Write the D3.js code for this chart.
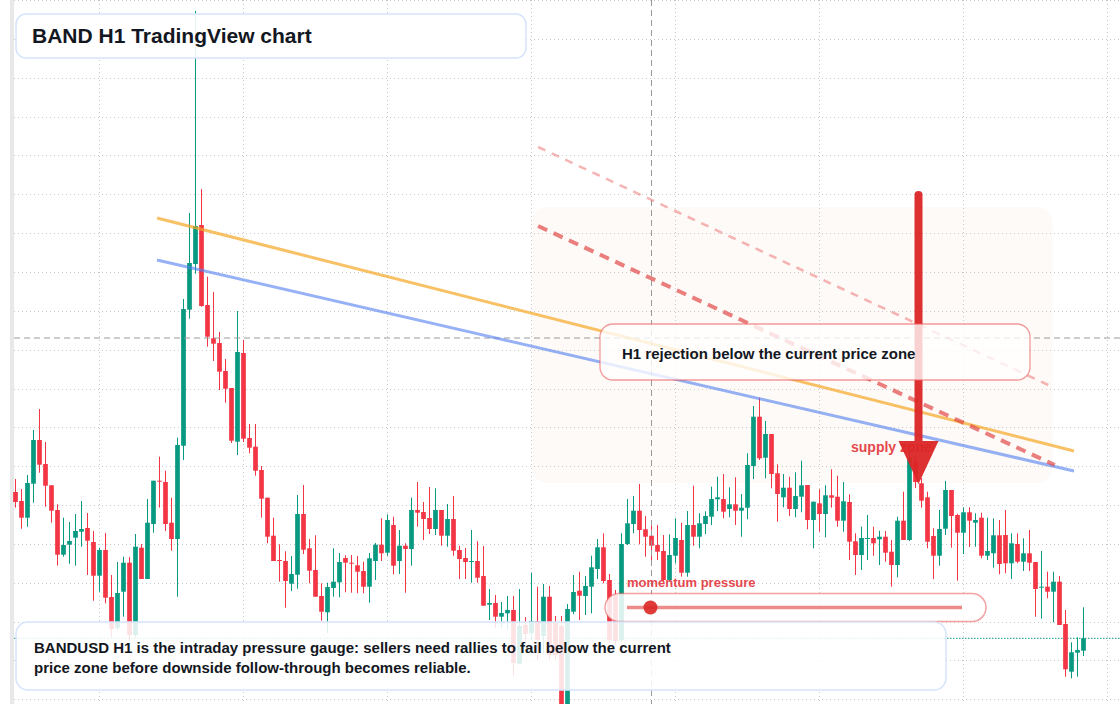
<!DOCTYPE html>
<html>
<head>
<meta charset="utf-8">
<script src="https://cdn.jsdelivr.net/npm/d3@7"></script>
<style>
  body { margin: 0; background: #ffffff; }
  #content svg { display: block; font-family: "Liberation Sans", Arial, sans-serif; }
</style>
</head>
<body>
<div id="content"></div>
<script>
// BANDUSD H1 candles (oldest first)
const opens = [
  0.508, 0.499, 0.4823, 0.5163, 0.560, 0.536, 0.5147, 0.490, 0.4453, 0.4553,
  0.4623, 0.4683, 0.472, 0.458, 0.4243, 0.450, 0.403, 0.372, 0.4083, 0.4373,
  0.365, 0.4523, 0.421, 0.476, 0.5193, 0.518, 0.4773, 0.461, 0.5543, 0.6903,
  0.736, 0.775, 0.695, 0.6617, 0.657, 0.629, 0.612, 0.5583, 0.647, 0.562,
  0.5533, 0.530, 0.5023, 0.4643, 0.440, 0.439, 0.4163, 0.4253, 0.486, 0.4517,
  0.430, 0.404, 0.3877, 0.412, 0.4177, 0.442, 0.4373, 0.4347, 0.429, 0.4133,
  0.439, 0.4553, 0.4473, 0.475, 0.439, 0.4543, 0.451, 0.490, 0.488, 0.482,
  0.471, 0.490, 0.4643, 0.481, 0.450, 0.442, 0.438, 0.439, 0.424, 0.3953,
  0.397, 0.3833, 0.3867, 0.390, 0.3363, 0.375, 0.3667, 0.379, 0.364, 0.4033,
  0.377, 0.374, 0.296, 0.3883, 0.4093, 0.404, 0.4133, 0.431, 0.4527, 0.420,
  0.405, 0.360, 0.456, 0.476, 0.4893, 0.4707, 0.4643, 0.455, 0.449, 0.420,
  0.4443, 0.460, 0.4273, 0.475, 0.4633, 0.476, 0.4833, 0.5007, 0.501, 0.491,
  0.4957, 0.4893, 0.4923, 0.534, 0.5833, 0.5423, 0.566, 0.5267, 0.5027, 0.5123,
  0.491, 0.5033, 0.515, 0.480, 0.4967, 0.486, 0.5047, 0.5033, 0.4793, 0.498,
  0.4587, 0.445, 0.461, 0.462, 0.4607, 0.4633, 0.4483, 0.435, 0.4793, 0.460,
  0.538, 0.5167, 0.5027, 0.464, 0.4443, 0.4713, 0.510, 0.485, 0.4673, 0.4877,
  0.4773, 0.4823, 0.4443, 0.4467, 0.4647, 0.465, 0.4367, 0.456, 0.4383, 0.4467,
  0.438, 0.4123, 0.4133, 0.4083, 0.4183, 0.376, 0.3283, 0.3473, 0.3493,
];
const highs = [
  0.521, 0.511, 0.525, 0.570, 0.591, 0.558, 0.5147, 0.4957, 0.4823, 0.478,
  0.486, 0.499, 0.487, 0.469, 0.4523, 0.467, 0.425, 0.438, 0.4433, 0.443,
  0.466, 0.456, 0.501, 0.5193, 0.5433, 0.5293, 0.5023, 0.5623, 0.701, 0.787,
  0.989, 0.811, 0.7233, 0.708, 0.668, 0.641, 0.612, 0.689, 0.660, 0.576,
  0.576, 0.534, 0.5023, 0.4823, 0.4557, 0.4487, 0.444, 0.505, 0.515, 0.461,
  0.4647, 0.4167, 0.4173, 0.4517, 0.447, 0.4447, 0.445, 0.444, 0.4383, 0.447,
  0.457, 0.4817, 0.4857, 0.4833, 0.470, 0.4567, 0.5023, 0.518, 0.498, 0.513,
  0.5117, 0.490, 0.496, 0.504, 0.4543, 0.452, 0.470, 0.4587, 0.454, 0.411,
  0.405, 0.398, 0.404, 0.404, 0.411, 0.383, 0.427, 0.4133, 0.416, 0.414,
  0.384, 0.384, 0.396, 0.425, 0.4283, 0.424, 0.4443, 0.461, 0.4667, 0.426,
  0.410, 0.4667, 0.501, 0.504, 0.516, 0.484, 0.475, 0.475, 0.465, 0.4657,
  0.4817, 0.4773, 0.489, 0.5143, 0.4867, 0.4887, 0.5133, 0.5233, 0.526, 0.5127,
  0.5227, 0.506, 0.5467, 0.594, 0.6023, 0.579, 0.566, 0.5357, 0.526, 0.5233,
  0.5277, 0.5393, 0.515, 0.4983, 0.5107, 0.5147, 0.5307, 0.5243, 0.518, 0.5057,
  0.4667, 0.4733, 0.485, 0.4733, 0.4693, 0.469, 0.460, 0.4833, 0.5083, 0.548,
  0.545, 0.522, 0.5083, 0.4717, 0.490, 0.519, 0.510, 0.4863, 0.4927, 0.4927,
  0.4867, 0.4873, 0.4823, 0.4817, 0.480, 0.490, 0.4667, 0.4667, 0.4617, 0.470,
  0.438, 0.449, 0.4283, 0.4283, 0.424, 0.390, 0.3577, 0.3627, 0.3927,
];
const lows = [
  0.4923, 0.4713, 0.4733, 0.4973, 0.5273, 0.4933, 0.4773, 0.4343, 0.4433, 0.4363,
  0.4343, 0.4533, 0.425, 0.3993, 0.4083, 0.3967, 0.363, 0.370, 0.3833, 0.359,
  0.363, 0.421, 0.421, 0.4673, 0.4923, 0.469, 0.4493, 0.4033, 0.540, 0.6813,
  0.7263, 0.6933, 0.6533, 0.639, 0.610, 0.5973, 0.557, 0.545, 0.558, 0.5467,
  0.5243, 0.4823, 0.4567, 0.439, 0.4183, 0.3923, 0.409, 0.4113, 0.446, 0.4167,
  0.4033, 0.3793, 0.367, 0.4033, 0.4027, 0.4077, 0.4073, 0.4067, 0.4067, 0.3973,
  0.420, 0.439, 0.4443, 0.4257, 0.426, 0.4073, 0.4343, 0.4733, 0.460, 0.466,
  0.465, 0.4543, 0.4533, 0.4443, 0.421, 0.421, 0.4173, 0.4173, 0.3943, 0.380,
  0.372, 0.372, 0.371, 0.324, 0.336, 0.357, 0.360, 0.340, 0.347, 0.340,
  0.340, 0.290, 0.292, 0.386, 0.380, 0.385, 0.3867, 0.421, 0.4167, 0.357,
  0.355, 0.359, 0.455, 0.4667, 0.4557, 0.4433, 0.437, 0.440, 0.4183, 0.4183,
  0.4367, 0.4233, 0.4233, 0.4543, 0.4517, 0.466, 0.475, 0.489, 0.4817, 0.4827,
  0.475, 0.4633, 0.4807, 0.521, 0.540, 0.5217, 0.5117, 0.4783, 0.4927, 0.484,
  0.4827, 0.4877, 0.4707, 0.4517, 0.4683, 0.4627, 0.4923, 0.4733, 0.4683, 0.440,
  0.425, 0.430, 0.440, 0.4443, 0.435, 0.4383, 0.4133, 0.4227, 0.460, 0.459,
  0.512, 0.4923, 0.4517, 0.421, 0.4343, 0.465, 0.4523, 0.4193, 0.446, 0.453,
  0.4533, 0.4417, 0.440, 0.4323, 0.4257, 0.4267, 0.421, 0.4367, 0.429, 0.429,
  0.3833, 0.3813, 0.4017, 0.3777, 0.375, 0.3233, 0.3217, 0.3233, 0.344,
];
const closes = [
  0.498, 0.4823, 0.517, 0.560, 0.5353, 0.5143, 0.4893, 0.4453, 0.455, 0.459,
  0.469, 0.471, 0.4593, 0.4243, 0.450, 0.4023, 0.371, 0.407, 0.4373, 0.365,
  0.4533, 0.421, 0.4773, 0.5193, 0.5183, 0.476, 0.461, 0.555, 0.691, 0.737,
  0.774, 0.694, 0.6633, 0.6563, 0.6283, 0.6113, 0.5593, 0.648, 0.5613, 0.5523,
  0.5293, 0.5013, 0.4633, 0.439, 0.439, 0.419, 0.426, 0.486, 0.4503, 0.4293,
  0.4033, 0.3883, 0.413, 0.4183, 0.438, 0.4373, 0.4363, 0.4283, 0.4133, 0.4417,
  0.4553, 0.4467, 0.480, 0.4343, 0.4543, 0.451, 0.490, 0.4873, 0.481, 0.471,
  0.490, 0.4643, 0.481, 0.4493, 0.441, 0.438, 0.439, 0.4223, 0.3943, 0.397,
  0.3833, 0.387, 0.390, 0.337, 0.374, 0.366, 0.379, 0.360, 0.4033, 0.345,
  0.345, 0.296, 0.391, 0.408, 0.4043, 0.414, 0.4327, 0.4527, 0.419, 0.360,
  0.359, 0.456, 0.4767, 0.4893, 0.470, 0.4633, 0.4543, 0.4483, 0.420, 0.445,
  0.462, 0.4273, 0.475, 0.4633, 0.4767, 0.484, 0.501, 0.5027, 0.4883, 0.4957,
  0.4893, 0.4923, 0.535, 0.5833, 0.5417, 0.566, 0.526, 0.506, 0.5123, 0.491,
  0.504, 0.5147, 0.480, 0.4983, 0.486, 0.5047, 0.5023, 0.4793, 0.4987, 0.4583,
  0.445, 0.462, 0.462, 0.4567, 0.4633, 0.4473, 0.435, 0.4793, 0.460, 0.542,
  0.518, 0.4993, 0.4583, 0.4443, 0.471, 0.510, 0.484, 0.4673, 0.4877, 0.4793,
  0.480, 0.4443, 0.449, 0.4647, 0.436, 0.4367, 0.4567, 0.4383, 0.4467, 0.4373,
  0.411, 0.4133, 0.4083, 0.4183, 0.375, 0.3307, 0.3477, 0.350, 0.3617,
];

// grid ticks (price levels and bar indexes)
const gridPrices = [
  0.9995, 0.9607, 0.9218, 0.883, 0.8441, 0.8053, 0.7664, 0.7276, 0.6887, 0.6499,
  0.611, 0.5722, 0.5333, 0.4945, 0.4556, 0.4168, 0.3779, 0.3391, 0.3002,
];
const gridBars = [14, 38, 62, 86, 110, 134, 158, 182];

// crosshair position
const crossBar = 106;
const crossPrice = 0.662;

// drawings: [bar index, price]
const orangeLine = [[23.58, 0.782], [176.42, 0.549]];
const blueLine = [[23.58, 0.74], [176.42, 0.529]];
const dashedLine = [[87.1, 0.774], [173.2, 0.535]];
const dashedLineLight = [[87.1, 0.853], [172.85, 0.613]];
const zoneBars = [86.0, 172.85];
const zonePrices = [0.793, 0.517];
const arrowBar = 150.5;
const arrowPrices = [0.805, 0.559, 0.516]; // top, head base, tip
const supplyLabel = { bar: 139.25, price: 0.548, text: "supply zone" };
const momentumValue = 0.07;

const titleText = "BAND H1 TradingView chart";
const noteText = "H1 rejection below the current price zone";
const captionLines = [
  "BANDUSD H1 is the intraday pressure gauge: sellers need rallies to fail below the current",
  "price zone before downside follow-through becomes reliable.",
];

const width = 1120;
const height = 704;
const upColor = "#089981";
const downColor = "#f23645";
const textColor = "#131722";

const svg = d3
  .select("#content")
  .append("svg")
  .attr("width", width)
  .attr("height", height);

const x = d3.scaleLinear().domain([0, opens.length - 1]).range([15.5, 1083.5]);
const y = d3.scaleLinear().domain([0.3, 1.0]).range([700, 0]);

const candles = opens.map((o, i) => ({
  i,
  o,
  h: highs[i],
  l: lows[i],
  c: closes[i],
}));

// left price-scale edge
svg
  .append("rect")
  .attr("x", 10)
  .attr("y", 0)
  .attr("width", 4)
  .attr("height", height)
  .attr("fill", "#e8e8e8");

// supply zone shading (under everything else)
svg
  .append("rect")
  .attr("x", x(zoneBars[0]))
  .attr("y", y(zonePrices[0]))
  .attr("width", x(zoneBars[1]) - x(zoneBars[0]))
  .attr("height", y(zonePrices[1]) - y(zonePrices[0]))
  .attr("rx", 16)
  .attr("fill", "#fdfaf7");

// grid
const grid = svg.append("g").attr("shape-rendering", "crispEdges");
grid
  .selectAll(".hgrid")
  .data(gridPrices)
  .enter()
  .append("line")
  .attr("x1", 14)
  .attr("x2", width)
  .attr("y1", (d) => y(d))
  .attr("y2", (d) => y(d))
  .attr("stroke", "#c9c9c9")
  .attr("stroke-dasharray", "1 3");
grid
  .selectAll(".vgrid")
  .data(gridBars)
  .enter()
  .append("line")
  .attr("x1", (d) => x(d))
  .attr("x2", (d) => x(d))
  .attr("y1", 0)
  .attr("y2", height)
  .attr("stroke", "#c9c9c9")
  .attr("stroke-dasharray", "1 3");

// current price line
svg
  .append("line")
  .attr("x1", 14)
  .attr("x2", width)
  .attr("y1", y(closes[closes.length - 1]))
  .attr("y2", y(closes[closes.length - 1]))
  .attr("stroke", upColor)
  .attr("stroke-width", 1)
  .attr("stroke-dasharray", "1.5 1.5");

// candles
const candle = svg
  .append("g")
  .selectAll("g")
  .data(candles)
  .enter()
  .append("g")
  .attr("fill", (d) => (d.c >= d.o ? upColor : downColor))
  .attr("stroke", (d) => (d.c >= d.o ? upColor : downColor));

candle
  .append("line")
  .attr("x1", (d) => x(d.i))
  .attr("x2", (d) => x(d.i))
  .attr("y1", (d) => y(d.h))
  .attr("y2", (d) => y(d.l))
  .attr("stroke-width", 1);

candle
  .append("rect")
  .attr("stroke", "none")
  .attr("x", (d) => x(d.i) - 2.35)
  .attr("width", 4.7)
  .attr("y", (d) => y(Math.max(d.o, d.c)))
  .attr("height", (d) => Math.max(1, Math.abs(y(d.o) - y(d.c))));

// crosshair
svg
  .append("line")
  .attr("x1", 14)
  .attr("x2", width)
  .attr("y1", y(crossPrice))
  .attr("y2", y(crossPrice))
  .attr("stroke", "#9a9a9a")
  .attr("stroke-dasharray", "6 4");
svg
  .append("line")
  .attr("x1", x(crossBar))
  .attr("x2", x(crossBar))
  .attr("y1", 0)
  .attr("y2", height)
  .attr("stroke", "#9a9a9a")
  .attr("stroke-dasharray", "6 4");

// trend lines
const line = d3
  .line()
  .x((d) => x(d[0]))
  .y((d) => y(d[1]));

svg
  .append("path")
  .attr("d", line(orangeLine))
  .attr("fill", "none")
  .attr("stroke", "rgba(245, 166, 35, 0.7)")
  .attr("stroke-width", 3);
svg
  .append("path")
  .attr("d", line(blueLine))
  .attr("fill", "none")
  .attr("stroke", "rgba(80, 125, 240, 0.6)")
  .attr("stroke-width", 3);
svg
  .append("path")
  .attr("d", line(dashedLineLight))
  .attr("fill", "none")
  .attr("stroke", "rgba(235, 90, 90, 0.45)")
  .attr("stroke-width", 2.5)
  .attr("stroke-dasharray", "8 7");
svg
  .append("path")
  .attr("d", line(dashedLine))
  .attr("fill", "none")
  .attr("stroke", "rgba(225, 60, 60, 0.65)")
  .attr("stroke-width", 4)
  .attr("stroke-dasharray", "10 7");

// supply zone label
svg
  .append("text")
  .attr("x", x(supplyLabel.bar))
  .attr("y", y(supplyLabel.price))
  .attr("fill", "#e5484d")
  .attr("font-size", 14)
  .attr("font-weight", 700)
  .text(supplyLabel.text);

// down arrow
const ax = x(arrowBar);
const arrow = svg.append("g").attr("opacity", 0.95);
arrow
  .append("line")
  .attr("x1", ax)
  .attr("x2", ax)
  .attr("y1", y(arrowPrices[0]))
  .attr("y2", y(arrowPrices[1]) + 2)
  .attr("stroke", "#dc2626")
  .attr("stroke-width", 8)
  .attr("stroke-linecap", "round");
arrow
  .append("path")
  .attr(
    "d",
    `M${ax - 20},${y(arrowPrices[1])}L${ax + 20},${y(arrowPrices[1])}L${ax},${y(arrowPrices[2])}Z`,
  )
  .attr("fill", "#dc2626");

// rejection note
svg
  .append("rect")
  .attr("x", 600)
  .attr("y", 324)
  .attr("width", 430)
  .attr("height", 56)
  .attr("rx", 13)
  .attr("fill", "rgba(255, 255, 255, 0.78)")
  .attr("stroke", "rgba(235, 90, 90, 0.6)")
  .attr("stroke-width", 1.3);
svg
  .append("text")
  .attr("x", 622)
  .attr("y", 359)
  .attr("fill", textColor)
  .attr("font-size", 15)
  .attr("font-weight", 700)
  .text(noteText);

// momentum gauge
const gauge = d3.scaleLinear().domain([0, 1]).range([627, 962]);
svg
  .append("text")
  .attr("x", 627)
  .attr("y", 587)
  .attr("fill", "#e5484d")
  .attr("font-size", 13)
  .attr("font-weight", 700)
  .text("momentum pressure");
svg
  .append("rect")
  .attr("x", 605)
  .attr("y", 593.5)
  .attr("width", 381)
  .attr("height", 28)
  .attr("rx", 14)
  .attr("fill", "rgba(255, 255, 255, 0.85)")
  .attr("stroke", "rgba(230, 70, 70, 0.5)")
  .attr("stroke-width", 1.5);
svg
  .append("line")
  .attr("x1", gauge(0))
  .attr("x2", gauge(1))
  .attr("y1", 607.5)
  .attr("y2", 607.5)
  .attr("stroke", "rgba(225, 60, 60, 0.6)")
  .attr("stroke-width", 3.5);
svg
  .append("circle")
  .attr("cx", gauge(momentumValue))
  .attr("cy", 607.5)
  .attr("r", 7)
  .attr("fill", "rgba(220, 38, 38, 0.9)");

// title box
svg
  .append("rect")
  .attr("x", 16)
  .attr("y", 14)
  .attr("width", 510)
  .attr("height", 44)
  .attr("rx", 10)
  .attr("fill", "rgba(255, 255, 255, 0.9)")
  .attr("stroke", "#d6e4fb")
  .attr("stroke-width", 1.5);
svg
  .append("text")
  .attr("x", 32)
  .attr("y", 43)
  .attr("fill", textColor)
  .attr("font-size", 21)
  .attr("font-weight", 700)
  .text(titleText);

// caption box
svg
  .append("rect")
  .attr("x", 16)
  .attr("y", 622)
  .attr("width", 930)
  .attr("height", 68)
  .attr("rx", 12)
  .attr("fill", "rgba(255, 255, 255, 0.86)")
  .attr("stroke", "#d6e4fb")
  .attr("stroke-width", 1.5);
svg
  .append("g")
  .selectAll("text")
  .data(captionLines)
  .enter()
  .append("text")
  .attr("x", 34)
  .attr("y", (d, i) => 653 + i * 20)
  .attr("fill", textColor)
  .attr("font-size", 15)
  .attr("font-weight", 700)
  .text((d) => d);
</script>
</body>
</html>
